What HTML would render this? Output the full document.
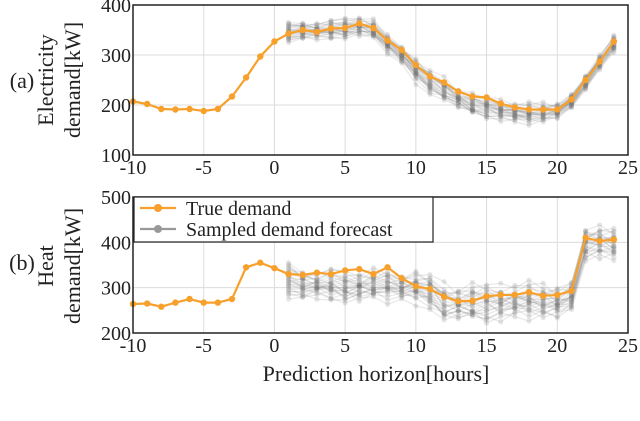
<!DOCTYPE html>
<html><head><meta charset="utf-8"><style>
body{margin:0;background:#fff}
svg{display:block;font-family:"Liberation Serif",serif}
</style></head><body>
<svg id="chart" width="640" height="421" viewBox="0 0 640 421"></svg>
<script>
const hours=[];for(let h=-10;h<=24;h++)hours.push(h);
const elecTrue=[207,202,192,191,192,188,192,217,255,297,327,343,350,346,353,354,363,354,329,310,280,257,245,227,217,215,203,195,191,191,191,211,250,287,327];
const heatTrue=[264,265,258,267,275,267,267,275,345,355,343,330,328,333,330,338,341,330,345,321,303,297,280,270,271,281,284,284,290,282,284,293,410,403,406];
const forecastHours=[1,2,3,4,5,6,7,8,9,10,11,12,13,14,15,16,17,18,19,20,21,22,23,24];
const elecFcMean=[345,348,347,350,352,356,350,322,300,268,245,230,212,200,195,188,183,182,184,187,207,245,285,322];
const elecFcSpread=[20,22,22,24,26,28,26,22,26,30,28,28,28,26,26,26,26,26,26,22,18,18,20,22];
const heatFcMean=[315,305,305,305,300,300,305,305,300,300,290,265,262,265,265,265,268,270,268,265,280,395,400,395];
const heatFcSpread=[40,40,40,45,45,45,45,45,40,45,45,50,50,50,50,50,50,50,50,50,40,45,50,45];
const sampleZ=[-1,-0.8,-0.6,-0.45,-0.3,-0.2,-0.1,0,0.1,0.2,0.3,0.45,0.6,0.8,1,-0.7,0.5,-0.35,0.25,0.9,-0.15,0.05,-0.55,0.7];
const xTicks=[-10,-5,0,5,10,15,20,25];
const elecTicks=[100,200,300,400];
const heatTicks=[200,300,400,500];

const svg=document.getElementById('chart');
const NS='http://www.w3.org/2000/svg';
function mk(tag,attrs,parent){const e=document.createElementNS(NS,tag);for(const k in attrs)e.setAttribute(k,attrs[k]);(parent||svg).appendChild(e);return e;}
const X0=133,X1=628;
const xs=v=>X0+(v+10)/35*(X1-X0);

function panel(name,top,bot,ymin,ymax,ticks,trueV,fcMean,fcSpread){
  const ys=v=>bot-(v-ymin)/(ymax-ymin)*(bot-top);
  const g=mk('g',{});
  
  
  xTicks.forEach(t=>{const l=mk('line',{x1:xs(t),x2:xs(t),y1:top,y2:bot,stroke:'#dcdcdc','stroke-width':1},g);
    
    const tx=mk('text',{x:xs(t),y:bot+19,'font-size':20,'text-anchor':'middle',fill:'#222'},g);tx.textContent=t;
    });
  ticks.forEach(t=>{const l=mk('line',{x1:X0,x2:X1,y1:ys(t),y2:ys(t),stroke:'#dcdcdc','stroke-width':1},g);
    
    const tx=mk('text',{x:X0-2,y:ys(t)+7,'font-size':20,'text-anchor':'end',fill:'#222'},g);tx.textContent=t;
    });
  const sg=mk('g',{},g);
  
  
  sampleZ.forEach((z,si)=>{
    const pts=forecastHours.map((h,i)=>{const zz=sampleZ[(si+i*7)%sampleZ.length]*0.35+z*0.65;return [xs(h),ys(fcMean[i]+zz*fcSpread[i])];});
    const p=mk('polyline',{points:pts.map(p=>p.join(',')).join(' '),fill:'none',stroke:'#777','stroke-width':1.3,'stroke-opacity':0.16},sg);
    
    pts.forEach(p=>{const c=mk('circle',{cx:p[0],cy:p[1],r:2.6,fill:'#777','fill-opacity':0.18},sg);
      });
  });
  const tp=hours.map((h,i)=>[xs(h),ys(trueV[i])]);
  const tl=mk('polyline',{points:tp.map(p=>p.join(',')).join(' '),fill:'none',stroke:'#f7a02c','stroke-width':2.2},g);
  
  tp.forEach(p=>{const c=mk('circle',{cx:p[0],cy:p[1],r:3.2,fill:'#f7a02c'},g);
    });
  const fr=mk('rect',{x:X0,y:top,width:X1-X0,height:bot-top,fill:'none',stroke:'#222','stroke-width':1.5},g);
  
}
panel('electricity',5,155,100,400,elecTicks,elecTrue,elecFcMean,elecFcSpread);
panel('heat',197,333,200,500,heatTicks,heatTrue,heatFcMean,heatFcSpread);
</script>
<svg width="640" height="421" style="position:absolute;left:0;top:0;font-family:'Liberation Serif',serif">
  <text x="22" y="88" font-size="22" text-anchor="middle" fill="#222">(a)</text>
  <text x="22" y="270" font-size="22" text-anchor="middle" fill="#222">(b)</text>
  <text transform="translate(53,80) rotate(-90)" font-size="22" text-anchor="middle" fill="#222">Electricity</text>
  <text transform="translate(80,80) rotate(-90)" font-size="22" text-anchor="middle" fill="#222">demand[kW]</text>
  <text transform="translate(53,266) rotate(-90)" font-size="22" text-anchor="middle" fill="#222">Heat</text>
  <text transform="translate(80,266) rotate(-90)" font-size="22" text-anchor="middle" fill="#222">demand[kW]</text>
  <text x="376" y="381" font-size="22" text-anchor="middle" fill="#222">Prediction horizon[hours]</text>
  <g>
    <rect x="134" y="197" width="299" height="45" fill="#fff" stroke="#222" stroke-width="1.2"/>
    <line x1="140" y1="208" x2="176" y2="208" stroke="#f7a02c" stroke-width="2.2"/>
    <circle cx="158" cy="208" r="4" fill="#f7a02c"/>
    <text x="186" y="215" font-size="20" fill="#222">True demand</text>
    <line x1="140" y1="229" x2="176" y2="229" stroke="#999" stroke-width="2.2"/>
    <circle cx="158" cy="229" r="4" fill="#999"/>
    <text x="186" y="236" font-size="20" fill="#222">Sampled demand forecast</text>
  </g>
</svg>
</body></html>
